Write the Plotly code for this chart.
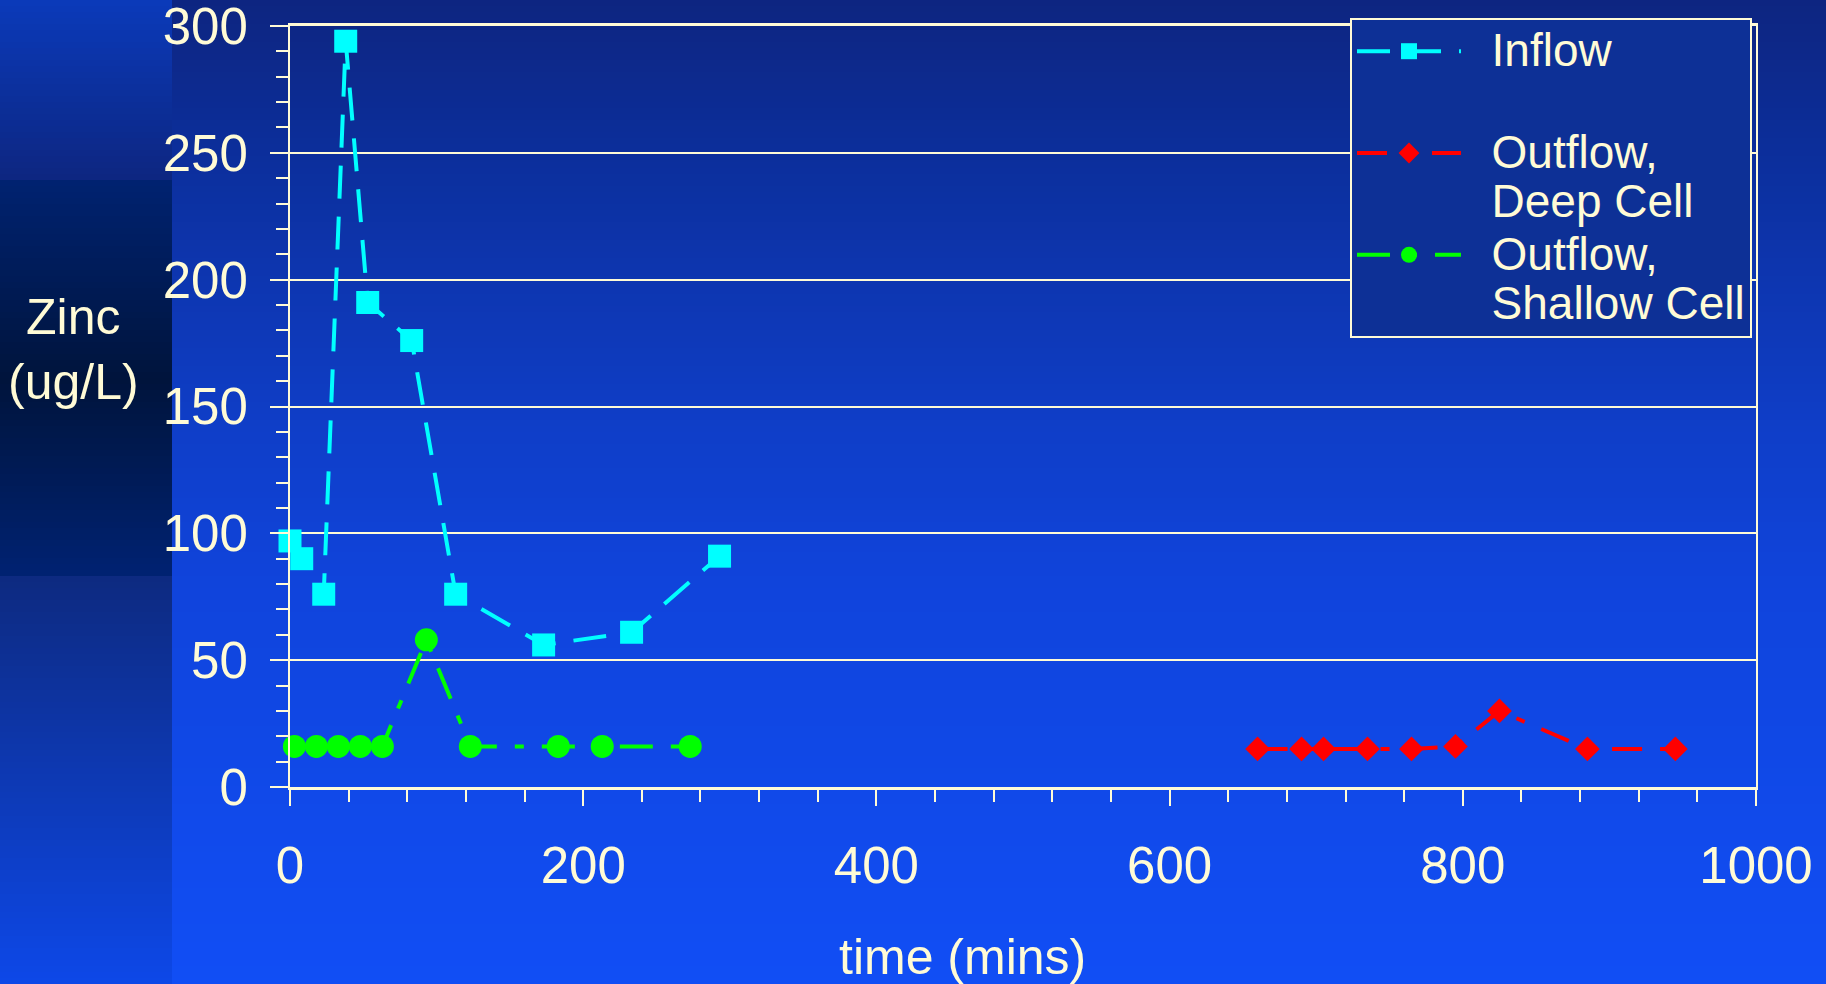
import plotly.graph_objects as go

# ---------------- data ----------------
inflow_time = [0, 8, 23, 38, 53, 83, 113, 173, 233, 293]
inflow_zinc = [97, 90, 76, 294, 191, 176, 76, 56, 61, 91]

deep_time = [660, 690, 705, 735, 765, 795, 825, 885, 945]
deep_zinc = [15, 15, 15, 15, 15, 16, 30, 15, 15]

shallow_time = [3, 18, 33, 48, 63, 93, 123, 183, 213, 273]
shallow_zinc = [16, 16, 16, 16, 16, 58, 16, 16, 16, 16]

series_lines = [["Inflow", "\u00a0"], ["Outflow,", "Deep Cell"], ["Outflow,", "Shallow Cell"]]
x_ticks = [0, 200, 400, 600, 800, 1000]
y_ticks = [0, 50, 100, 150, 200, 250, 300]

# ---------------- geometry / style ----------------
W, H = 1826, 984
L, R, T, B = 290, 1756, 26, 787   # plot area in pixels
CREAM = "#fffbd6"
FONT = "Liberation Sans, Arial, sans-serif"


def px(xp):
    return (xp - L) / (R - L)


def py(yp):
    return (B - yp) / (B - T)


def legend_name(lines):
    return "<br>".join('<span style="font-size:46px">\u00a0\u00a0%s</span>' % s for s in lines)


def lerp_color(stops, y):
    for (y0, c0), (y1, c1) in zip(stops, stops[1:]):
        if y0 <= y <= y1:
            t = (y - y0) / (y1 - y0) if y1 > y0 else 0
            c = [round(a + (b - a) * t) for a, b in zip(c0, c1)]
            return "rgb(%d,%d,%d)" % tuple(c)
    c = stops[-1][1]
    return "rgb(%d,%d,%d)" % tuple(c)


main_stops = [(0, (13, 37, 128)), (180, (12, 48, 160)), (430, (15, 62, 200)),
              (590, (16, 68, 220)), (984, (17, 78, 245))]
left_stops = [(0, (11, 58, 186)), (181, (13, 38, 128)), (182, (0, 34, 112)),
              (380, (0, 20, 60)), (576, (0, 34, 114)), (577, (13, 42, 128)),
              (984, (13, 72, 232))]

shapes = []
band = 6
for y0 in range(0, H, band):
    y1 = min(H, y0 + band)
    ym = (y0 + y1) / 2
    shapes.append(dict(type="rect", xref="paper", yref="paper",
                       x0=px(172), x1=px(W), y0=py(y1), y1=py(y0),
                       fillcolor=lerp_color(main_stops, ym), line=dict(width=0),
                       layer="below"))
    shapes.append(dict(type="rect", xref="paper", yref="paper",
                       x0=px(0), x1=px(172), y0=py(y1), y1=py(y0),
                       fillcolor=lerp_color(left_stops, ym), line=dict(width=0),
                       layer="below"))

fig = go.Figure()

fig.add_trace(go.Scatter(
    x=inflow_time, y=inflow_zinc, name=legend_name(series_lines[0]), mode="lines+markers",
    line=dict(color="#00ffff", width=4, dash="33px,18px"),
    marker=dict(symbol="square", size=23, color="#00ffff", line=dict(width=0)),
    cliponaxis=False))

fig.add_trace(go.Scatter(
    x=deep_time, y=deep_zinc, name=legend_name(series_lines[1]), mode="lines+markers",
    line=dict(color="#ff0000", width=4, dash="30px,18px,9px,18px"),
    marker=dict(symbol="diamond", size=19, color="#ff0000", line=dict(width=0)),
    cliponaxis=False))

fig.add_trace(go.Scatter(
    x=shallow_time, y=shallow_zinc, name=legend_name(series_lines[2]), mode="lines+markers",
    line=dict(color="#00ff00", width=4, dash="33px,18px,9px,18px"),
    marker=dict(symbol="circle", size=23, color="#00ff00", line=dict(width=0)),
    cliponaxis=False))

fig.update_layout(
    width=W, height=H,
    margin=dict(l=L, r=W - R, t=T, b=H - B, pad=0, autoexpand=False),
    paper_bgcolor="#0f3ec8",
    plot_bgcolor="rgba(0,0,0,0)",
    font=dict(family=FONT, color=CREAM, size=50),
    shapes=shapes,
    showlegend=True,
    legend=dict(
        x=px(1350), y=py(18), xanchor="left", yanchor="top",
        bgcolor="#0d3096", bordercolor=CREAM, borderwidth=2,
        font=dict(family=FONT, size=38, color=CREAM),
        valign="top", itemwidth=104, tracegroupgap=0,
    ),
    xaxis=dict(
        range=[0, 1000], tickvals=x_ticks, ticktext=[str(v) for v in x_ticks],
        showgrid=False, zeroline=False,
        showline=True, linecolor=CREAM, linewidth=3, mirror=True,
        ticks="outside", ticklen=16, tickwidth=2, tickcolor=CREAM,
        tickfont=dict(family=FONT, size=51, color=CREAM),
        ticklabelstandoff=16, ticklabeloverflow="allow",
        minor=dict(dtick=40, ticks="outside", ticklen=12, tickwidth=2,
                   tickcolor=CREAM, showgrid=False),
    ),
    yaxis=dict(
        range=[0, 300], tickvals=y_ticks, ticktext=[str(v) for v in y_ticks],
        showgrid=True, gridcolor=CREAM, gridwidth=2, zeroline=False,
        showline=True, linecolor=CREAM, linewidth=2, mirror=True,
        ticks="outside", ticklen=18, tickwidth=2, tickcolor=CREAM,
        tickfont=dict(family=FONT, size=51, color=CREAM),
        ticklabelstandoff=12, ticklabeloverflow="allow",
        minor=dict(dtick=10, ticks="outside", ticklen=12, tickwidth=2,
                   tickcolor=CREAM, showgrid=False),
    ),
    annotations=[
        dict(text="Zinc<br>(ug/L)", xref="paper", yref="paper",
             x=px(73), y=py(349), xanchor="center", yanchor="middle",
             showarrow=False, font=dict(family=FONT, size=50, color=CREAM)),
        dict(text="time (mins)", xref="paper", yref="paper",
             x=px(962), y=py(957), xanchor="center", yanchor="middle",
             showarrow=False, font=dict(family=FONT, size=50, color=CREAM)),
    ],
)

fig.write_html("out.html",
               config={"displayModeBar": False},
               post_script="document.body.style.margin='0';document.body.style.overflow='hidden';")
